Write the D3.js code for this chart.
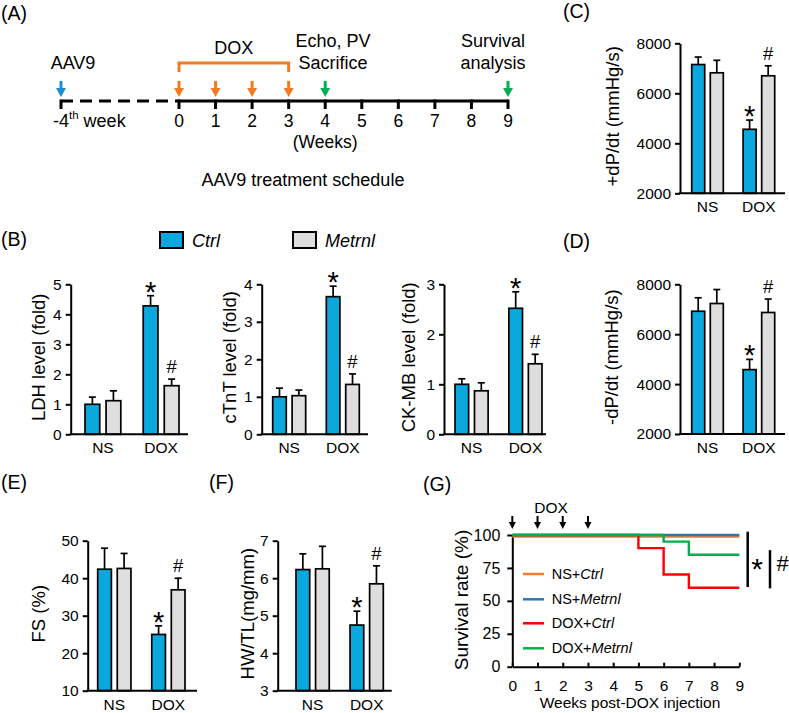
<!DOCTYPE html>
<html><head><meta charset="utf-8">
<script src="https://cdn.jsdelivr.net/npm/d3@7"></script>
<style>
body{margin:0;background:#fff}
svg{display:block}
text{font-family:"Liberation Sans",Arial,sans-serif;fill:#000}
</style>
</head><body>
<svg id="fig" width="789" height="713"></svg>
<script>
// ---------------- DATA ----------------
const groups = ["NS", "DOX"];
const series = ["Ctrl", "Metrnl"];

// (B) serum markers, fold change
const ldhCtrl = [1.00, 4.28],  ldhCtrlErr = [0.24, 0.34];
const ldhMetrnl = [1.12, 1.62], ldhMetrnlErr = [0.33, 0.22];
const ldhTicks = [0, 1, 2, 3, 4, 5];

const ctntCtrl = [1.00, 3.67],  ctntCtrlErr = [0.23, 0.28];
const ctntMetrnl = [1.03, 1.33], ctntMetrnlErr = [0.15, 0.28];
const ctntTicks = [0, 1, 2, 3, 4];

const ckmbCtrl = [1.00, 2.52],  ckmbCtrlErr = [0.11, 0.33];
const ckmbMetrnl = [0.87, 1.41], ckmbMetrnlErr = [0.16, 0.19];
const ckmbTicks = [0, 1, 2, 3];

// (C) +dP/dt, (D) -dP/dt
const pdpCtrl = [7150, 4560],  pdpCtrlErr = [300, 370];
const pdpMetrnl = [6820, 6700], pdpMetrnlErr = [500, 400];
const ndpCtrl = [6920, 4580],  ndpCtrlErr = [540, 410];
const ndpMetrnl = [7230, 6870], ndpMetrnlErr = [560, 540];
const dpTicks = [2000, 4000, 6000, 8000];

// (E) FS, (F) HW/TL
const fsCtrl = [42.4, 25.0],  fsCtrlErr = [5.6, 2.3];
const fsMetrnl = [42.6, 36.9], fsMetrnlErr = [4.0, 3.1];
const fsTicks = [10, 20, 30, 40, 50];
const hwCtrl = [6.23, 4.75],  hwCtrlErr = [0.42, 0.37];
const hwMetrnl = [6.25, 5.85], hwMetrnlErr = [0.60, 0.48];
const hwTicks = [3, 4, 5, 6, 7];

// (G) survival
const survWeeks = [0, 1, 2, 3, 4, 5, 6, 7, 8, 9];
const survNSCtrl   = [100, 100, 100, 100, 100, 100, 100, 100, 100, 100];
const survNSMetrnl = [100, 100, 100, 100, 100, 100, 100, 100, 100, 100];
const survDOXCtrl  = [100, 100, 100, 100, 100, 90, 70, 60, 60, 60];
const survDOXMetrnl= [100, 100, 100, 100, 100, 100, 95, 85, 85, 85];
const survTicks = [0, 25, 50, 75, 100];
const doxWeeks = [0, 1, 2, 3];

// (A) timeline
const timeWeeks = [0, 1, 2, 3, 4, 5, 6, 7, 8, 9];

// ---------------- STYLE ----------------
const FONT = '"Liberation Sans", Arial, sans-serif';
const BLUE = "#0aa8dd", GREY = "#dedede";
const TICK = 15.5, TITLE = 18.5, TL = 18;
const svg = d3.select("#fig");

function txt(x, y, s, size, anchor = "start", extra = {}) {
  const t = svg.append("text").attr("x", x).attr("y", y).attr("font-size", size)
    .attr("text-anchor", anchor).text(s);
  for (const k in extra) t.attr(k, extra[k]);
  return t;
}

function arrow(x, yTop, yTip, color, hw, hh, sw) {
  svg.append("line").attr("x1", x).attr("x2", x).attr("y1", yTop).attr("y2", yTip - hh + 1)
    .attr("stroke", color).attr("stroke-width", sw);
  svg.append("path").attr("d", `M${x - hw / 2},${yTip - hh}L${x + hw / 2},${yTip - hh}L${x},${yTip}Z`)
    .attr("fill", color);
}

// ---------------- PANEL LABELS ----------------
txt(1, 20, "(A)", 19.5);
txt(563, 18, "(C)", 19.5);
txt(1, 246, "(B)", 19.5);
txt(563, 248, "(D)", 19.5);
txt(1, 489, "(E)", 19.5);
txt(209, 489, "(F)", 19.5);
txt(423, 491, "(G)", 19.5);

// ---------------- (A) TIMELINE ----------------
const xT = d3.scaleLinear([0, 9], [179, 508]);
const xPre = xT(0) - 118;
const lineY = 101;
svg.append("line").attr("x1", xPre).attr("x2", xT(0)).attr("y1", lineY).attr("y2", lineY)
  .attr("stroke", "#000").attr("stroke-width", 3).attr("stroke-dasharray", "12,7");
svg.append("line").attr("x1", xT(0)).attr("x2", xT(9)).attr("y1", lineY).attr("y2", lineY)
  .attr("stroke", "#000").attr("stroke-width", 3);
[xPre].concat(timeWeeks.map(w => xT(w))).forEach(x => {
  svg.append("line").attr("x1", x).attr("x2", x).attr("y1", lineY - 1.5).attr("y2", lineY + 8)
    .attr("stroke", "#000").attr("stroke-width", 3);
});
timeWeeks.forEach(w => txt(xT(w), 127, String(w), 17.5, "middle"));
const pre = svg.append("text").attr("x", 53).attr("y", 127).attr("font-size", TL);
pre.append("tspan").text("-4");
pre.append("tspan").attr("font-size", 11.5).attr("dy", -8).text("th");
pre.append("tspan").attr("dy", 8).text(" week");
txt(xT(4), 147.5, "(Weeks)", 17.5, "middle");
txt(303, 186, "AAV9 treatment schedule", TL, "middle");
txt(73, 69, "AAV9", TL, "middle");
txt((xT(0) + xT(3)) / 2, 54, "DOX", TL, "middle");
txt(333, 47, "Echo, PV", TL, "middle");
txt(333, 69, "Sacrifice", TL, "middle");
txt(493, 47, "Survival", TL, "middle");
txt(493, 69, "analysis", TL, "middle");
// DOX bracket
svg.append("path")
  .attr("d", `M${xT(0)},72V63H${xT(3)}V72`)
  .attr("fill", "none").attr("stroke", "#f47a20").attr("stroke-width", 3);
arrow(xPre, 81, 97, "#1a8fd6", 10, 9, 3);
[0, 1, 2, 3].forEach(w => arrow(xT(w), 81, 97, "#f47a20", 10, 9, 3));
[4, 9].forEach(w => arrow(xT(w), 81, 97, "#00b050", 10, 9, 3));

// ---------------- LEGEND (B) ----------------
svg.append("rect").attr("x", 160).attr("y", 232).attr("width", 23).attr("height", 16)
  .attr("fill", BLUE).attr("stroke", "#000").attr("stroke-width", 2);
txt(192, 247, "Ctrl", TL, "start", { "font-style": "italic" });
svg.append("rect").attr("x", 293).attr("y", 232).attr("width", 23).attr("height", 16)
  .attr("fill", GREY).attr("stroke", "#000").attr("stroke-width", 2);
txt(325, 247, "Metrnl", TL, "start", { "font-style": "italic" });

// ---------------- BAR CHART ----------------
function barChart(cfg) {
  const g = svg.append("g");
  const y = d3.scaleLinear(cfg.domain, [cfg.yBot, cfg.yTop]);
  const x0 = d3.scaleBand(groups, [cfg.barL, cfg.barR]).paddingInner(0.385).paddingOuter(0);
  const x1 = d3.scaleBand(series, [0, x0.bandwidth()]).paddingInner(0.3);
  const vals = [cfg.ctrl, cfg.met], errs = [cfg.ctrlErr, cfg.metErr];
  const data = [];
  groups.forEach((gn, gi) => series.forEach((s, si) =>
    data.push({ g: gn, s: s, v: vals[si][gi], e: errs[si][gi] })));
  const cx = d => x0(d.g) + x1(d.s) + x1.bandwidth() / 2;

  g.selectAll("line.err").data(data).join("line").attr("class", "err")
    .attr("x1", cx).attr("x2", cx).attr("y1", d => y(d.v)).attr("y2", d => y(d.v + d.e))
    .attr("stroke", "#000").attr("stroke-width", 1.7);
  g.selectAll("line.cap").data(data).join("line").attr("class", "cap")
    .attr("x1", d => cx(d) - 3.5).attr("x2", d => cx(d) + 3.5)
    .attr("y1", d => y(d.v + d.e)).attr("y2", d => y(d.v + d.e))
    .attr("stroke", "#000").attr("stroke-width", 1.7);
  g.selectAll("rect.bar").data(data).join("rect").attr("class", "bar")
    .attr("x", d => x0(d.g) + x1(d.s)).attr("width", x1.bandwidth())
    .attr("y", d => y(d.v)).attr("height", d => cfg.yBot - y(d.v))
    .attr("fill", d => d.s === "Ctrl" ? BLUE : GREY)
    .attr("stroke", "#000").attr("stroke-width", 1.7);

  const ya = g.append("g").attr("transform", `translate(${cfg.ax},0)`)
    .call(d3.axisLeft(y).tickValues(cfg.ticks).tickSize(5).tickSizeOuter(0).tickPadding(4)
      .tickFormat(d3.format("d")));
  ya.attr("font-family", FONT).attr("font-size", TICK);
  ya.select(".domain").attr("stroke-width", 2);
  ya.selectAll(".tick line").attr("stroke-width", 2);

  g.append("line").attr("x1", cfg.ax - 1).attr("x2", cfg.xEnd).attr("y1", cfg.yBot).attr("y2", cfg.yBot)
    .attr("stroke", "#000").attr("stroke-width", 2);

  const xa = g.append("g").attr("transform", `translate(0,${cfg.yBot})`)
    .call(d3.axisBottom(x0).tickSize(0).tickPadding(8));
  xa.attr("font-family", FONT).attr("font-size", TICK);
  xa.select(".domain").remove();

  g.append("text").attr("transform", `translate(${cfg.titleX},${(cfg.yTop + cfg.yBot) / 2 - 2}) rotate(-90)`)
    .attr("text-anchor", "middle").attr("dominant-baseline", "central")
    .attr("font-size", TITLE).text(cfg.title);

  const dc = data[2], dm = data[3];
  g.append("text").attr("x", cx(dc)).attr("y", y(dc.v + dc.e) + 6)
    .attr("text-anchor", "middle").attr("font-size", 29).text("*");
  g.append("text").attr("x", cx(dm)).attr("y", y(dm.v + dm.e) - 6)
    .attr("text-anchor", "middle").attr("font-size", 18.5).text("#");
}

barChart({ ax: 70.7, xEnd: 188, yTop: 284.3, yBot: 434.3, barL: 85, barR: 179,
  domain: [0, 5], ticks: ldhTicks, ctrl: ldhCtrl, ctrlErr: ldhCtrlErr, met: ldhMetrnl, metErr: ldhMetrnlErr,
  title: "LDH level (fold)", titleX: 38 });
barChart({ ax: 261.7, xEnd: 368, yTop: 284.3, yBot: 434.3, barL: 272.7, barR: 359.3,
  domain: [0, 4], ticks: ctntTicks, ctrl: ctntCtrl, ctrlErr: ctntCtrlErr, met: ctntMetrnl, metErr: ctntMetrnlErr,
  title: "cTnT level (fold)", titleX: 229 });
barChart({ ax: 444, xEnd: 546, yTop: 284.3, yBot: 434.3, barL: 455, barR: 542,
  domain: [0, 3], ticks: ckmbTicks, ctrl: ckmbCtrl, ctrlErr: ckmbCtrlErr, met: ckmbMetrnl, metErr: ckmbMetrnlErr,
  title: "CK-MB level (fold)", titleX: 408 });
barChart({ ax: 680, xEnd: 785, yTop: 43.3, yBot: 193.3, barL: 691.7, barR: 774.7,
  domain: [2000, 8000], ticks: dpTicks, ctrl: pdpCtrl, ctrlErr: pdpCtrlErr, met: pdpMetrnl, metErr: pdpMetrnlErr,
  title: "+dP/dt (mmHg/s)", titleX: 612 });
barChart({ ax: 680, xEnd: 785, yTop: 284.3, yBot: 434, barL: 691.7, barR: 774.7,
  domain: [2000, 8000], ticks: dpTicks, ctrl: ndpCtrl, ctrlErr: ndpCtrlErr, met: ndpMetrnl, metErr: ndpMetrnlErr,
  title: "-dP/dt (mmHg/s)", titleX: 611 });
barChart({ ax: 87.7, xEnd: 197, yTop: 540.7, yBot: 690.7, barL: 97.7, barR: 185,
  domain: [10, 50], ticks: fsTicks, ctrl: fsCtrl, ctrlErr: fsCtrlErr, met: fsMetrnl, metErr: fsMetrnlErr,
  title: "FS (%)", titleX: 38 });
barChart({ ax: 277.7, xEnd: 391.7, yTop: 540.7, yBot: 690.7, barL: 296, barR: 383.3,
  domain: [3, 7], ticks: hwTicks, ctrl: hwCtrl, ctrlErr: hwCtrlErr, met: hwMetrnl, metErr: hwMetrnlErr,
  title: "HW/TL(mg/mm)", titleX: 247 });

// ---------------- (G) SURVIVAL ----------------
const xs = d3.scaleLinear([0, 9], [512.3, 739.3]);
const ys = d3.scaleLinear([0, 100], [666.7, 535]);
const gG = svg.append("g");
const yAx = gG.append("g").attr("transform", `translate(${xs(0)},0)`)
  .call(d3.axisLeft(ys).tickValues(survTicks).tickSize(5).tickSizeOuter(0).tickPadding(7));
yAx.attr("font-family", FONT).attr("font-size", 16);
yAx.select(".domain").attr("stroke-width", 2);
yAx.selectAll(".tick line").attr("stroke-width", 2);
const xAx = gG.append("g").attr("transform", `translate(0,${ys(0)})`)
  .call(d3.axisBottom(xs).tickValues(survWeeks).tickSizeInner(-4).tickSizeOuter(0).tickPadding(13));
xAx.attr("font-family", FONT).attr("font-size", 15.5);
xAx.select(".domain").attr("stroke-width", 2);
xAx.selectAll(".tick line").attr("stroke-width", 2);

txt(630, 708, "Weeks post-DOX injection", 15.5, "middle");
svg.append("text").attr("transform", `translate(461,600) rotate(-90)`)
  .attr("text-anchor", "middle").attr("dominant-baseline", "central")
  .attr("font-size", 19).text("Survival rate (%)");

const survLine = d3.line().x((d, i) => xs(survWeeks[i])).y(d => ys(d)).curve(d3.curveStepAfter);
const survSeries = [
  { v: survNSCtrl, c: "#f47b30", name: "NS+", it: "Ctrl", dy: 1.5 },
  { v: survNSMetrnl, c: "#2e75b6", name: "NS+", it: "Metrnl", dy: 0 },
  { v: survDOXCtrl, c: "#ff0000", name: "DOX+", it: "Ctrl", dy: 0 },
  { v: survDOXMetrnl, c: "#00b050", name: "DOX+", it: "Metrnl", dy: 0 }
];
survSeries.forEach(s => {
  gG.append("path").attr("d", survLine(s.v)).attr("transform", `translate(0,${s.dy})`)
    .attr("fill", "none").attr("stroke", s.c).attr("stroke-width", 2.4);
});
const legY = [574, 599.3, 623.3, 648.3];
survSeries.forEach((s, i) => {
  gG.append("line").attr("x1", 523).attr("x2", 544).attr("y1", legY[i]).attr("y2", legY[i])
    .attr("stroke", s.c).attr("stroke-width", 2.5);
  const t = gG.append("text").attr("x", 551.7).attr("y", legY[i] + 5).attr("font-size", 14.5);
  t.append("tspan").text(s.name);
  t.append("tspan").attr("font-style", "italic").text(s.it);
});
// DOX arrows
txt((xs(0) + xs(3)) / 2 + 1, 513, "DOX", 15.5, "middle");
doxWeeks.forEach(w => arrow(xs(w), 516, 529, "#000", 7, 7, 2));
// significance bars
gG.append("line").attr("x1", 747.7).attr("x2", 747.7).attr("y1", ys(102.5)).attr("y2", ys(60.5))
  .attr("stroke", "#000").attr("stroke-width", 2.5);
gG.append("line").attr("x1", 770).attr("x2", 770).attr("y1", ys(88.5)).attr("y2", ys(59.5))
  .attr("stroke", "#000").attr("stroke-width", 2.5);
txt(757, 579, "*", 30, "middle");
txt(782.5, 571, "#", 22, "middle");
</script>
</body></html>
